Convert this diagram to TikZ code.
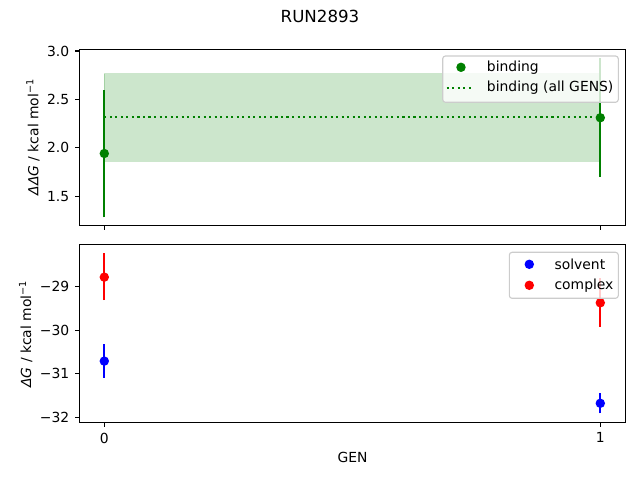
\documentclass[tikz,border=0pt]{standalone}
\usepackage{fontspec}
\setmainfont{DejaVu Sans}
\definecolor{mplgreen}{RGB}{0,128,0}
\definecolor{mplblue}{RGB}{0,0,255}
\definecolor{mplred}{RGB}{255,0,0}
\definecolor{legedge}{gray}{0.8}
\tikzset{
  dot/.style={circle, fill=#1, inner sep=0pt, minimum size=6.8pt},
  errbar/.style={draw=#1, line width=1.5pt},
  spine/.style={line width=0.8pt},
  tickmark/.style={line width=0.8pt},
  ticklabel/.style={font=\fontsize{10}{12}\selectfont, inner sep=0pt},
  legendbox/.style={draw=legedge, fill=white, fill opacity=0.8, rounded corners=2pt, line width=0.8pt},
  legendtext/.style={font=\fontsize{10}{12}\selectfont, inner sep=0pt, anchor=west},
}

\begin{document}
\begin{tikzpicture}[x=0.72pt, y=-0.72pt]
    \useasboundingbox (0,0) rectangle (640,480);
    \node[font=\fontsize{12}{14}\selectfont] (title) at (320,16) {RUN2893};

    % binding panel
    \begin{scope}[shift={(104.3,341.1)}, x=357.12pt, y=69.62pt]
        \fill[mplgreen, opacity=0.2] (0,1.86) rectangle (1,2.765);
        \draw[mplgreen, opacity=0.2, line width=1pt] (0,1.86) rectangle (1,2.765);
        \draw[mplgreen, line width=1.5pt, dash pattern=on 1.5pt off 2.475pt] (0,2.32) -- (1,2.32);
        \draw[errbar=mplgreen] (0,1.28) -- (0,2.60);
        \node[dot=mplgreen] (b0) at (0,1.94) {};
        \draw[errbar=mplgreen] (1,1.70) -- (1,2.925);
        \node[dot=mplgreen] (b1) at (1,2.31) {};
        \draw[spine] (-0.05,1.196) coordinate (tsw) rectangle (1.05,3.018) coordinate (tne);
        \foreach \v [count=\i] in {1.5,2.0,2.5,3.0}
            \draw[tickmark] (-0.05,\v) -- ++(-3.5pt,0) node[ticklabel, anchor=east, xshift=-3.5pt] (ty\i) {\v};
        \foreach \g in {0,1}
            \draw[tickmark] (\g,1.196) -- ++(0,-3.5pt);
    \end{scope}
    \node[ticklabel, rotate=90] (ylabtop) at (33,137) {\itshape ΔΔG\/\upshape{} / kcal mol\textsuperscript{−1}};
    \draw[legendbox] (442.7,56) rectangle (618.3,102.3);
    \node[dot=mplgreen] (lb0) at (461,67.3) {};
    \node[legendtext] (lt0) at (486.7,67.3) {binding};
    \draw[mplgreen, line width=1.5pt, dash pattern=on 1.5pt off 2.475pt] (446.7,87.7) coordinate (ld0) -- (474.3,87.7) coordinate (ld1);
    \node[legendtext] (lt1) at (486.7,87.7) {binding (all GENS)};

    % solvent / complex panel
    \begin{scope}[shift={(104.3,-974.8)}, x=357.12pt, y=31.32pt]
        \draw[errbar=mplblue] (0,-31.09) -- (0,-30.32);
        \node[dot=mplblue] (s0) at (0,-30.71) {};
        \draw[errbar=mplblue] (1,-31.91) -- (1,-31.45);
        \node[dot=mplblue] (s1) at (1,-31.68) {};
        \draw[errbar=mplred] (0,-29.31) -- (0,-28.22);
        \node[dot=mplred] (c0) at (0,-28.78) {};
        \draw[errbar=mplred] (1,-29.92) -- (1,-28.81);
        \node[dot=mplred] (c1) at (1,-29.37) {};
        \draw[spine] (-0.05,-32.12) coordinate (bsw) rectangle (1.05,-28.04) coordinate (bne);
        \foreach \v [count=\i] in {29,30,31,32}
            \draw[tickmark] (-0.05,-\v) -- ++(-3.5pt,0) node[ticklabel, anchor=east, xshift=-3.5pt] (by\i) {−\v};
        \foreach \g in {0,1}
            \draw[tickmark] (\g,-32.12) -- ++(0,-3.5pt) node[ticklabel, anchor=north, yshift=-3.5pt] (bx\g) {\g};
    \end{scope}
    \node[ticklabel, rotate=90] (ylabbot) at (25.7,334) {\itshape ΔG\/\upshape{} / kcal mol\textsuperscript{−1}};
    \node[ticklabel] (xlab) at (352.5,457) {GEN};
    \draw[legendbox] (509.3,252.3) rectangle (618.3,298.3);
    \node[dot=mplblue] (ls) at (529.3,264.3) {};
    \node[legendtext] (lts) at (554.3,264.3) {solvent};
    \node[dot=mplred] (lc) at (529.3,285.3) {};
    \node[legendtext] (ltc) at (554.3,285.3) {complex};
\end{tikzpicture}
\end{document}
